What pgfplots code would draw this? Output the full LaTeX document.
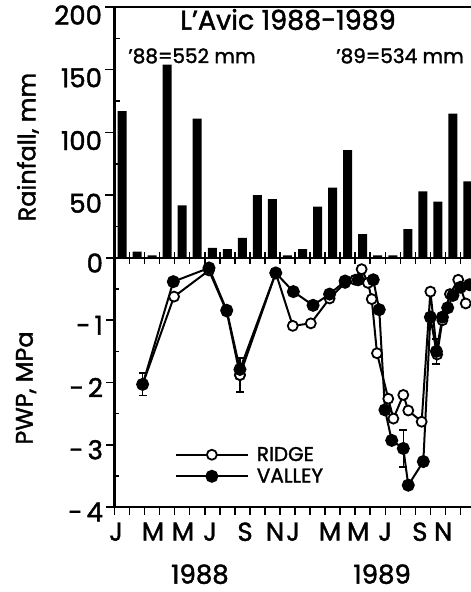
\documentclass[border=0pt]{standalone}
\usepackage{fontspec}
\setmainfont{Poppins}[FakeBold=1.6]
\usepackage{pgfplots}
\usepackage{pgfplotstable}
\pgfplotsset{compat=1.18}
\newcommand\fs[1]{\fontsize{#1}{#1}\selectfont}

\pgfplotstableread{
m rain
0.5 117
1.5 5
2.5 2
3.5 154
4.5 42
5.5 111
6.5 8
7.5 7
8.5 16
9.5 50
10.5 47
11.5 2
12.5 7
13.5 41
14.5 56
15.5 86
16.5 19
17.5 2
18.5 2
19.5 23
20.5 53
21.5 45
22.5 115
23.5 61
}\raintable

\pgfplotstableread{
m pwp
1.87 -2.03
3.96 -0.62
6.28 -0.20
7.46 -0.86
8.34 -1.88
10.72 -0.24
11.85 -1.09
13.05 -1.05
14.30 -0.65
15.33 -0.40
16.00 -0.35
16.43 -0.18
16.85 -0.40
17.10 -0.66
17.45 -1.53
18.20 -2.26
18.54 -2.58
19.20 -2.20
19.53 -2.45
20.42 -2.63
21.00 -0.54
21.45 -1.55
21.80 -1.00
22.30 -0.58
22.85 -0.35
23.35 -0.73
}\ridgetable

\pgfplotstableread{
m pwp
1.87 -2.03
3.91 -0.38
6.28 -0.16
7.46 -0.84
8.34 -1.79
10.72 -0.24
11.89 -0.54
13.20 -0.76
14.30 -0.58
15.33 -0.37
16.20 -0.35
17.20 -0.35
17.60 -0.83
17.98 -2.44
18.43 -2.93
19.20 -3.06
19.53 -3.65
20.53 -3.27
21.00 -0.95
21.40 -1.50
21.80 -0.95
22.15 -0.80
22.50 -0.60
23.00 -0.47
23.60 -0.43
}\valleytable

\pgfplotstableread{
m pwp err
8.34 -1.88 0.27
}\ridgeerr

\pgfplotstableread{
m pwp err
1.87 -2.03 0.18
19.20 -3.06 0.30
21.40 -1.50 0.20
}\valleyerr

\begin{document}
\begin{tikzpicture}
\path[use as bounding box] (0pt,0pt) rectangle (471pt,592pt);
% ---------------- Rainfall panel ----------------
\begin{axis}[
  at={(114.5pt,334pt)}, anchor=south west, scale only axis,
  width=356.5pt, height=251pt,
  xmin=0, xmax=23.7, ymin=0, ymax=200,
  axis y line*=left,
  axis line style={line width=2.3pt},
  xtick=\empty, xtick pos=bottom,
  extra x ticks={0,...,23}, extra x tick labels={},
  extra x tick style={major tick length=12pt, xtick align=center},
  ytick={50,100,150,200}, yticklabels={50,100,150,200},
  ytick align=outside,
  major tick length=9pt,
  tick style={line width=1.5pt, black},
  extra y ticks={25,75,125,175}, extra y tick labels={},
  extra y tick style={ytick align=inside, major tick length=5pt},
  yticklabel style={font=\fs{26}, yshift=-8pt},
  ylabel={Rainfall, mm},
  ylabel style={at={(axis description cs:-0.243,0.442)}, anchor=center, font=\fs{24}},
]
\addplot[ybar, bar width=9pt, fill=black, draw=none] table[x=m, y=rain] {\raintable};
\node[font=\fs{27}] at (axis cs:11.54,190) {L'Avic 1988-1989};
\node[font=\fs{20}] at (axis cs:5.15,161) {'88=552 mm};
\node[font=\fs{20}] at (axis cs:18.98,161) {'89=534 mm};
\end{axis}
% ---------------- PWP panel ----------------
\begin{axis}[
  at={(114.5pt,85pt)}, anchor=south west, scale only axis,
  width=356.5pt, height=249pt,
  xmin=0, xmax=23.7, ymin=-4, ymax=0,
  axis y line*=left, clip=false,
  axis line style={line width=2.3pt},
  xtick={0,...,23}, xticklabels={}, xtick pos=bottom,
  xtick align=outside, ytick align=outside,
  major tick length=8pt,
  tick style={line width=1.5pt, black},
  extra x ticks={0.1,2.56,4.55,6.35,8.68,10.67,11.87,14.33,16.2,17.99,20.3,21.85},
  extra x tick labels={J,M,M,J,S,N,J,M,M,J,S,N},
  extra x tick style={major tick length=0pt},
  xticklabel style={font=\fs{26}, yshift=-12pt},
  ytick={-4,-3,-2,-1,0},
  yticklabels={-\hspace{4pt}4,-\hspace{4pt}3,-\hspace{4pt}2,-\hspace{4pt}1,0},
  extra y ticks={-3.5,-2.5,-1.5,-0.5}, extra y tick labels={},
  extra y tick style={ytick align=inside, major tick length=5pt},
  yticklabel style={font=\fs{26}, yshift=-5pt},
  ylabel={PWP, MPa},
  ylabel style={at={(axis description cs:-0.248,0.478)}, anchor=center, font=\fs{24}},
  legend style={at={(axis cs:4.0,-3.0)}, anchor=north west, draw=none, fill=none,
    inner sep=0pt, row sep=2pt, font=\fs{20},
    /tikz/every odd column/.append style={column sep=6pt}},
  legend cell align=left,
  legend image code/.code={\draw[mark repeat=2,mark phase=2,#1,line width=2pt] plot coordinates {(0pt,0pt) (36pt,0pt) (72pt,0pt)};},
]
\addplot[forget plot, only marks, mark=*, mark size=5pt, mark options={fill=white, draw=black, line width=1.8pt},
  error bars/.cd, y dir=both, y explicit,
  error bar style={line width=1.6pt, black},
  error mark options={rotate=90, mark size=4pt, line width=1.6pt, black}]
  table[x=m, y=pwp, y error=err] {\ridgeerr};
\addplot[forget plot, only marks, mark=*, mark size=5.5pt, mark options={fill=black, draw=black},
  error bars/.cd, y dir=both, y explicit,
  error bar style={line width=1.6pt, black},
  error mark options={rotate=90, mark size=4pt, line width=1.6pt, black}]
  table[x=m, y=pwp, y error=err] {\valleyerr};
\addplot[black, line width=2pt, mark=*, mark size=5pt, mark options={fill=white, draw=black, line width=1.8pt}]
  table[x=m, y=pwp] {\ridgetable};
\addlegendentry{RIDGE}
\addplot[black, line width=2pt, mark=*, mark size=5.5pt, mark options={fill=black, draw=black}]
  table[x=m, y=pwp] {\valleytable};
\addlegendentry{VALLEY}
\node[font=\fs{26}] at (axis cs:5.68,-5.08) {1988};
\node[font=\fs{26}] at (axis cs:17.79,-5.08) {1989};
\end{axis}
\end{tikzpicture}
\end{document}
